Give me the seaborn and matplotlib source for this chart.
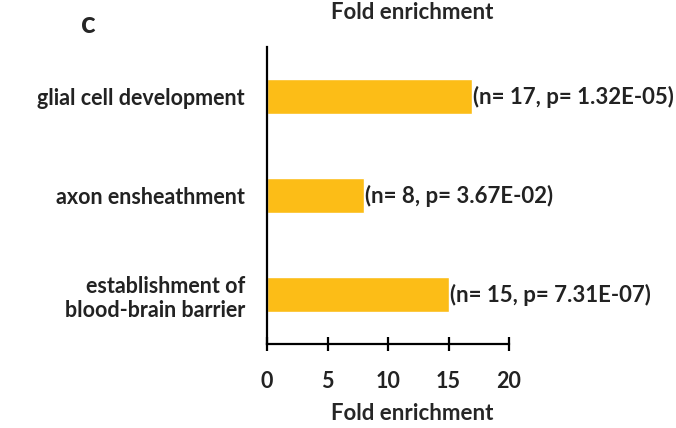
import pandas as pd
import matplotlib.pyplot as plt
import seaborn as sns

terms = ['glial cell development', 'axon ensheathment', 'establishment of\nblood-brain barrier']
fold = [16.9, 8.0, 15.0]
n_genes = [17, 8, 15]
pvals = ['1.32E-05', '3.67E-02', '7.31E-07']
xticks = [0, 5, 10, 15, 20]

df = pd.DataFrame({'term': terms, 'fold': fold})

sns.set_style('white')
plt.rcParams['font.family'] = ['Lato', 'DejaVu Sans']
plt.rcParams['font.weight'] = 'bold'

fig = plt.figure(figsize=(6.76, 4.28), dpi=100)
ax = fig.add_axes([0.395, 0.196, 0.358, 0.694])

sns.barplot(data=df, x='fold', y='term', orient='h', color='#FCBD17',
            saturation=1, width=0.35, ax=ax)
sns.despine(ax=ax)

# annotation next to each bar
for i, (v, n, p) in enumerate(zip(fold, n_genes, pvals)):
    ax.text(v + 0.1, i, f'(n= {n}, p= {p})', va='center', ha='left',
            fontsize=16, fontweight='bold', color='#222222', clip_on=False)

ax.set_xlim(0, 20)
ax.set_ylim(2.5, -0.5)
ax.set_xticks(xticks)
ax.set_xlabel('Fold enrichment', fontsize=16, fontweight='bold', labelpad=8)
ax.xaxis.label.set_x(0.6)
ax.set_ylabel('')
ax.set_title('Fold enrichment', fontsize=16, fontweight='bold', pad=20, x=0.6)
ax.tick_params(axis='x', bottom=True, direction='inout', length=10, width=1.6,
               color='black', labelsize=15.5, pad=14)
ax.tick_params(axis='y', left=False, length=0, labelsize=15.5, pad=16)
for lab in ax.get_xticklabels() + ax.get_yticklabels():
    lab.set_fontweight('bold')
    lab.set_color('#222222')
for s in ['left', 'bottom']:
    ax.spines[s].set_linewidth(1.6)
    ax.spines[s].set_color('black')

fig.text(0.12, 0.945, 'c', fontsize=22, fontweight='bold', ha='left', va='center')

fig.savefig('out.png', dpi=100)
